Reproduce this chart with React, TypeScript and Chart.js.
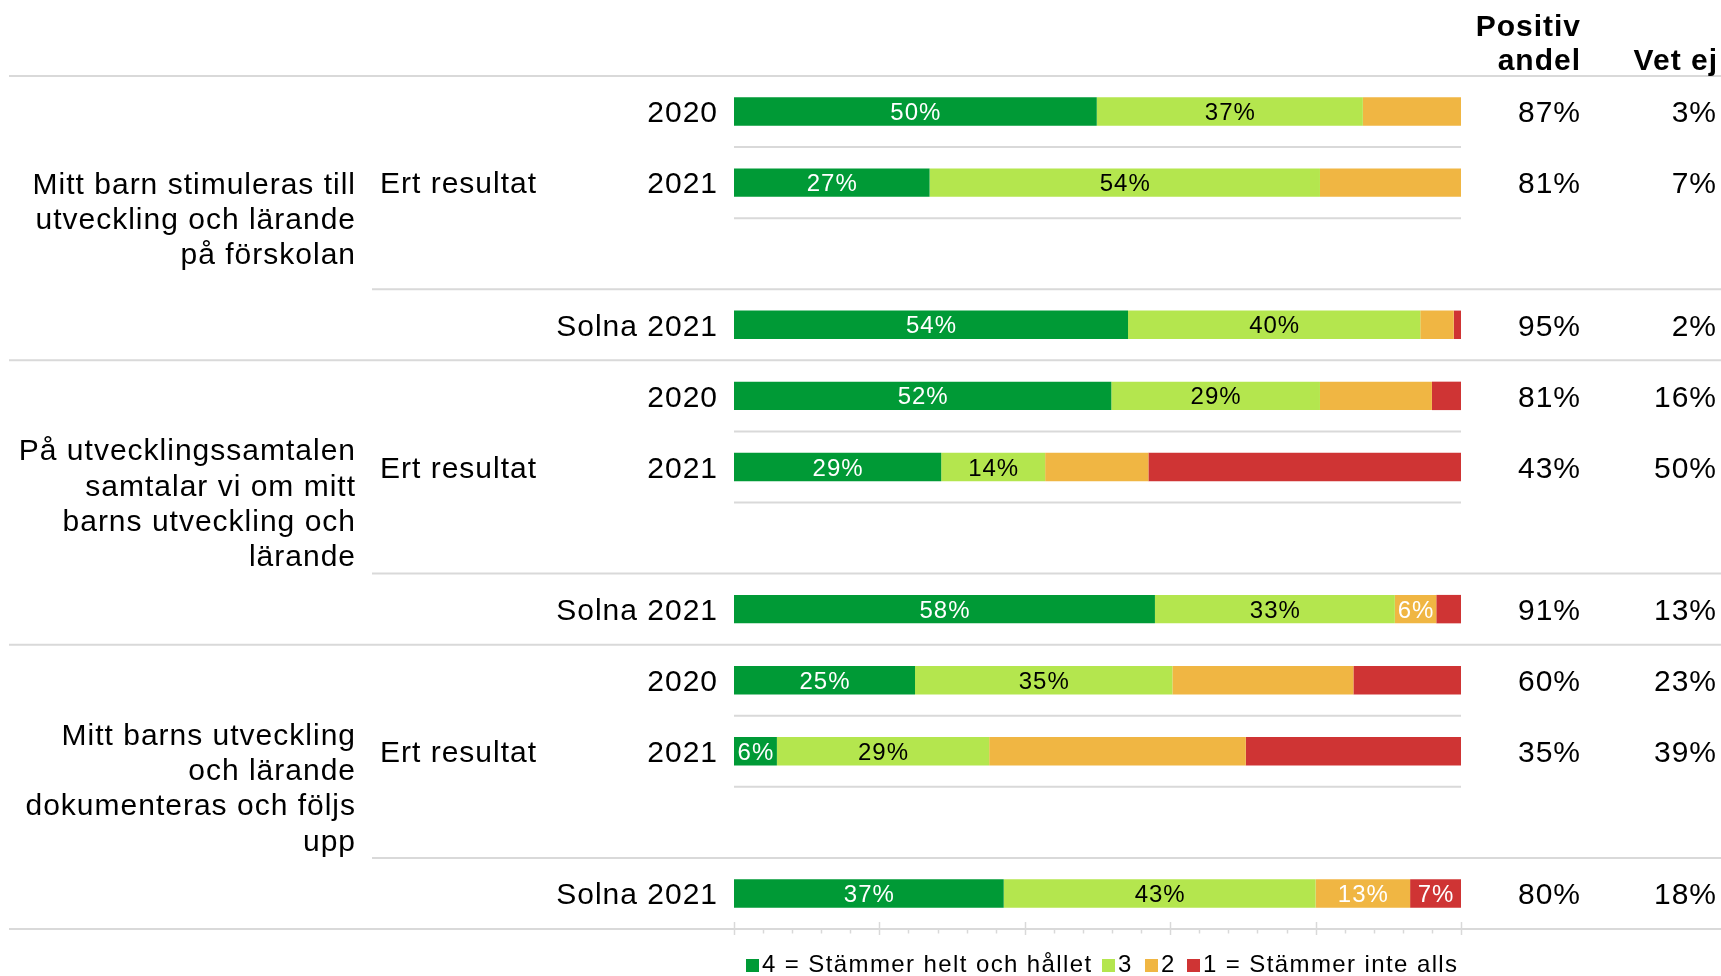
import { useEffect, useRef } from 'react';
import { Chart, registerables } from 'chart.js';
Chart.register(...registerables);

// ---------- data ----------
const categories = ['2020', '2021', '', 'Solna 2021', '2020', '2021', '', 'Solna 2021', '2020', '2021', '', 'Solna 2021'];
const questionLines = [
  ['Mitt barn stimuleras till', 'utveckling och lärande', 'på förskolan'],
  ['På utvecklingssamtalen', 'samtalar vi om mitt', 'barns utveckling och', 'lärande'],
  ['Mitt barns utveckling', 'och lärande', 'dokumenteras och följs', 'upp'],
];
const subGroupLabel = 'Ert resultat';
const seriesNames = ['4 = Stämmer helt och hållet', '3', '2', '1 = Stämmer inte alls'];
const s4 = [49.9, 26.9, null, 54.2, 51.9, 28.5, null, 57.9, 24.9, 5.9, null, 37.1];
const s3 = [36.6, 53.7, null, 40.2, 28.7, 14.3, null, 33.0, 35.4, 29.2, null, 42.9];
const s2 = [13.5, 19.4, null, 4.6, 15.4, 14.2, null, 5.7, 24.9, 35.3, null, 13.0];
const s1 = [0, 0, null, 1.0, 4.0, 43.0, null, 3.4, 14.8, 29.6, null, 7.0];
const show4 = [true, true, false, true, true, true, false, true, true, true, false, true];
const show3 = [true, true, false, true, true, true, false, true, true, true, false, true];
const show2 = [false, false, false, false, false, false, false, true, false, false, false, true];
const show1 = [false, false, false, false, false, false, false, false, false, false, false, true];
const positiveShare = [87, 81, null, 95, 81, 43, null, 91, 60, 35, null, 80];
const dontKnow = [3, 7, null, 2, 16, 50, null, 13, 23, 39, null, 18];
const colHeaderPositive = ['Positiv', 'andel'];
const colHeaderDontKnow = 'Vet ej';
const xTickValues = [0, 4, 8, 12, 16, 20, 24, 28, 32, 36, 40, 44, 48, 52, 56, 60, 64, 68, 72, 76, 80, 84, 88, 92, 96, 100];

// ---------- style ----------
const COLORS = ['#009a36', '#b4e64e', '#f0b643', '#cf3434'];
const LABEL_COLORS = ['#ffffff', '#000000', '#ffffff', '#ffffff'];
const FONT = '"Liberation Sans", Arial, sans-serif';
const GRID = '#d9d9d9';
const W = 1721;
const H = 976;

export default function App() {
  const ref = useRef<HTMLCanvasElement | null>(null);

  useEffect(() => {
    document.body.style.margin = '0';
    const canvas = ref.current;
    if (!canvas) return;
    const shows = [show4, show3, show2, show1];

    const plugin = {
      id: 'custom',
      beforeDatasetsDraw(chart: any) {
        const ctx = chart.ctx as CanvasRenderingContext2D;
        const y = chart.scales.y;
        const area = chart.chartArea;
        const n = categories.length;
        ctx.save();
        ctx.strokeStyle = GRID;
        ctx.lineWidth = 2;
        for (let b = 0; b <= n; b++) {
          let py: number;
          if (b === 0) py = area.top;
          else if (b === n) py = area.bottom;
          else py = (y.getPixelForValue(b - 1) + y.getPixelForValue(b)) / 2;
          let x0 = 9, x1 = W;
          if (b % 4 === 1 || b % 4 === 2) { x0 = area.left; x1 = area.right; }
          else if (b % 4 === 3) { x0 = 372; x1 = W; }
          ctx.beginPath();
          ctx.moveTo(x0, py);
          ctx.lineTo(x1, py);
          ctx.stroke();
        }
        ctx.restore();
      },
      afterDatasetsDraw(chart: any) {
        const ctx = chart.ctx as CanvasRenderingContext2D;
        ctx.save();
        (ctx as any).letterSpacing = '1px';
        ctx.font = `24px ${FONT}`;
        ctx.textAlign = 'center';
        ctx.textBaseline = 'alphabetic';
        chart.data.datasets.forEach((ds: any, di: number) => {
          const meta = chart.getDatasetMeta(di);
          meta.data.forEach((el: any, i: number) => {
            const v = ds.data[i];
            if (v == null || !shows[di][i]) return;
            const cx = (el.x + el.base) / 2;
            ctx.fillStyle = LABEL_COLORS[di];
            ctx.fillText(`${Math.round(v)}%`, cx + 0.5, el.y + 8.6);
          });
        });
        ctx.restore();
      },
      afterDraw(chart: any) {
        const ctx = chart.ctx as CanvasRenderingContext2D;
        const x = chart.scales.x;
        const y = chart.scales.y;
        const area = chart.chartArea;
        ctx.save();
        (ctx as any).letterSpacing = '1px';
        ctx.fillStyle = '#000';
        ctx.textBaseline = 'alphabetic';
        ctx.font = `30px ${FONT}`;

        // row labels + right columns
        categories.forEach((lab, i) => {
          const cy = y.getPixelForValue(i);
          ctx.textAlign = 'right';
          if (lab) ctx.fillText(lab, 718, cy + 10.8);
          if (positiveShare[i] != null) ctx.fillText(`${positiveShare[i]}%`, 1581, cy + 10.8);
          if (dontKnow[i] != null) ctx.fillText(`${dontKnow[i]}%`, 1717, cy + 10.8);
        });

        // group labels
        questionLines.forEach((lines, g) => {
          const top = g === 0 ? area.top : (y.getPixelForValue(g * 4 - 1) + y.getPixelForValue(g * 4)) / 2;
          const bottom = g === questionLines.length - 1 ? area.bottom : (y.getPixelForValue(g * 4 + 3) + y.getPixelForValue(g * 4 + 4)) / 2;
          const center = (top + bottom) / 2;
          ctx.textAlign = 'right';
          lines.forEach((ln, k) => {
            ctx.fillText(ln, 356, center + 10.8 + (k - (lines.length - 1) / 2) * 35.3);
          });
          ctx.textAlign = 'left';
          ctx.fillText(subGroupLabel, 380, y.getPixelForValue(g * 4 + 1) + 10.8);
        });

        // column headers
        ctx.font = `bold 30px ${FONT}`;
        ctx.textAlign = 'right';
        ctx.fillText(colHeaderPositive[0], 1581, 36);
        ctx.fillText(colHeaderPositive[1], 1581, 70);
        ctx.fillText(colHeaderDontKnow, 1718, 70);

        // x ticks
        ctx.strokeStyle = GRID;
        ctx.lineWidth = 1.5;
        xTickValues.forEach((v) => {
          const px = Math.round(x.getPixelForValue(v)) + 0.5;
          const major = v % 20 === 0;
          ctx.beginPath();
          ctx.moveTo(px, major ? area.bottom - 7 : area.bottom);
          ctx.lineTo(px, major ? area.bottom + 6 : area.bottom + 4.5);
          ctx.stroke();
        });

        // legend
        const legendX = [746, 1102, 1145, 1187];
        (ctx as any).letterSpacing = '1.4px';
        ctx.font = `24px ${FONT}`;
        ctx.textAlign = 'left';
        seriesNames.forEach((name, i) => {
          ctx.fillStyle = COLORS[i];
          ctx.fillRect(legendX[i], 959, 13, 13);
          ctx.fillStyle = '#000';
          ctx.fillText(name, legendX[i] + 16, 972);
        });
        ctx.restore();
      },
    };

    const chart = new Chart(canvas, {
      type: 'bar',
      data: {
        labels: categories,
        datasets: [s4, s3, s2, s1].map((d, i) => ({
          label: seriesNames[i],
          data: d,
          backgroundColor: COLORS[i],
          borderWidth: 0,
          barPercentage: 0.4,
          categoryPercentage: 1,
        })),
      },
      options: {
        indexAxis: 'y',
        animation: false,
        responsive: false,
        devicePixelRatio: 1,
        layout: { padding: { left: 734, right: W - 1461, top: 76, bottom: H - 929 } },
        scales: {
          x: { stacked: true, min: 0, max: 100, display: false },
          y: { stacked: true, display: false },
        },
        plugins: { legend: { display: false }, tooltip: { enabled: false } },
      },
      plugins: [plugin],
    } as any);
    return () => chart.destroy();
  }, []);

  return (
    <div style={{ position: 'absolute', left: 0, top: 0, width: W, height: H, background: '#fff' }}>
      <canvas ref={ref} width={W} height={H} style={{ width: W, height: H, display: 'block' }} />
    </div>
  );
}
